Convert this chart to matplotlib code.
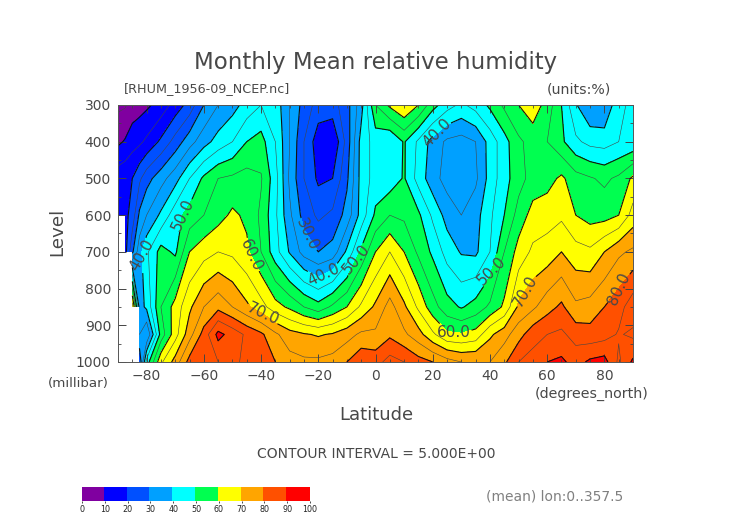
import numpy as np
import matplotlib
matplotlib.use("Agg")
import matplotlib.pyplot as plt
from matplotlib.colors import ListedColormap, BoundaryNorm

# latitude grid and pressure levels
lats = [-90, -87.5, -85, -82.5, -80, -75, -70, -65, -60, -55, -50, -45, -40, -35, -30, -25, -20, -15, -10,
        -5, 0, 5, 10, 15, 20, 25, 30, 35, 40, 45, 50, 55, 60, 65, 70, 75, 80, 85, 90]
levels_mb = [300, 400, 500, 600, 700, 850, 925, 1000]

# relative humidity (%), one list per pressure level
nan = np.nan
rh_300 = [4, 4.5, 7, 8, 9, 12, 17, 22, 30, 35, 38, 42, 45, 43, 35, 28, 23, 23, 28,
          38, 55, 61, 65, 60, 52, 47, 44, 47, 51, 56, 60, 63, 58, 50, 40.5, 35, 35, 44, 46]
rh_400 = [9, 10.5, 13, 14, 16, 21, 27, 33, 38, 42, 45, 50, 52, 45, 35, 25, 17, 15, 27,
          42, 47, 45, 50.5, 44, 38, 34, 33, 35, 42, 48, 54, 57, 55, 51, 46, 43.5, 43, 45, 46]
rh_500 = [18, 19, 20, 24, 28, 33, 38, 45, 51, 55, 56, 57, 55.5, 47, 34, 25, 19, 20, 29,
          42, 47, 47, 50.5, 43, 37, 33, 32, 34, 42, 48, 53, 57, 58, 61, 57, 55.5, 54, 56, 61]
rh_600 = [17, 18.5, 22, 31, 35, 41, 48, 52, 55, 58, 61, 59, 54, 46, 36, 28, 24, 26, 32,
          42, 51, 55, 54, 51, 44, 38, 35, 38, 44, 50, 57, 62, 63, 64, 60, 58, 58, 60, 67]
rh_700 = [nan, 18, 29, 38, 44, 52, 49, 60, 63, 65, 64, 61, 55, 47, 39.5, 33, 30, 32, 41,
          51, 60, 65, 60, 54, 49, 43, 39.5, 39, 45, 55, 62, 66, 67, 70, 67, 66, 70, 74, 76]
rh_850 = [nan, nan, 68, 38, 41, 55, 62, 69, 75, 78.5, 75, 71, 67, 62, 59, 55, 52, 56, 60,
          66, 71, 77, 71, 64, 57, 52, 49.5, 52, 56, 61, 71, 74, 78, 81, 76, 77, 80, 83, 88]
rh_925 = [nan, nan, nan, 35, 30, 52, 63, 73, 82, 91.5, 88, 84, 81, 76, 72, 70.5, 69.5, 70.5, 73,
          76, 76, 79, 76, 72, 66, 61, 60.5, 62, 69, 73, 78, 83, 85, 86, 83, 82, 83, 85.5, 84]
rh_1000 = [nan, nan, nan, 25, 47, 64, 72, 82, 84, 85, 86, 84, 84, 80, 77, 76, 76, 77, 80,
           84, 83, 87, 85, 82, 80, 77, 75, 75, 75, 79, 85, 87, 90, 91, 88, 91, 92, 84, 91]

fill_levels = np.arange(0, 101, 10)
major_lines = np.arange(10, 100, 10)
minor_lines = np.arange(5, 100, 10)
fill_colors = ["#8000a0", "#0000ff", "#0050ff", "#00a0ff", "#00ffff",
               "#00ff50", "#ffff00", "#ffa500", "#ff5000", "#ff0000"]

# where the contour labels sit: (lat, level) and how they are turned
label_spots = [(-81, 709), (-67, 600), (-45, 715), (-39, 864), (-24, 654), (-18, 762), (-8.6, 714),
               (28, 888), (21, 374), (40, 750), (51, 799), (85, 799)]
label_angles = [60, 65, -65, -25, -65, 25, 50, 0, 45, 45, 60, 65]

TXT = "#484848"
W, H = 752, 532

rh = np.array([rh_300, rh_400, rh_500, rh_600, rh_700, rh_850, rh_925, rh_1000])

fig = plt.figure(figsize=(W / 100, H / 100), dpi=100)
ax = fig.add_axes([118 / W, 1 - 362 / H, 515 / W, 257 / H])

cmap = ListedColormap(fill_colors)
norm = BoundaryNorm(fill_levels, cmap.N)
cf = ax.contourf(lats, levels_mb, rh, levels=fill_levels, cmap=cmap, norm=norm, corner_mask=False)
ax.contour(lats, levels_mb, rh, levels=minor_lines, colors="#444444", linewidths=0.4, corner_mask=False)
cs = ax.contour(lats, levels_mb, rh, levels=major_lines, colors="#111111", linewidths=0.8, corner_mask=False)
texts = ax.clabel(cs, fmt="%.1f", fontsize=11, colors=TXT, manual=label_spots, inline=True, inline_spacing=1)
for t, a in zip(texts, label_angles):
    t.set_rotation(a)

ax.set_xlim(-90, 90)
ax.set_ylim(1000, 300)
ax.set_xticks(np.arange(-80, 81, 20))
ax.set_xticks(np.arange(-90, 91, 5), minor=True)
ax.set_yticks(np.arange(300, 1001, 100))
ax.set_yticks(np.arange(300, 1001, 50), minor=True)
ax.tick_params(which="major", direction="in", length=5.5, width=0.7, top=True, right=True,
               labelsize=10, labelcolor=TXT, color="#444444")
ax.tick_params(which="minor", direction="in", length=2.5, width=0.6, top=True, right=True, color="#444444")
ax.tick_params(axis="x", which="major", pad=5)
ax.tick_params(axis="y", which="major", pad=5)
ax.set_xticklabels(["\u221280", "\u221260", "\u221240", "\u221220", "0", "20", "40", "60", "80"])
for s in ax.spines.values():
    s.set_linewidth(0.7)
    s.set_color("#555555")


def label(x, y, s, **kw):
    # x, y in picture pixels
    kw.setdefault("color", TXT)
    kw.setdefault("va", "center")
    fig.text(x / W, 1 - y / H, s, **kw)


label(376, 62, "Monthly Mean relative humidity", fontsize=16.5, ha="center")
label(124, 89, "[RHUM_1956-09_NCEP.nc]", fontsize=9.2, ha="left")
label(547, 89, "(units:%)", fontsize=10.2, ha="left")
label(57, 232, "Level", fontsize=13.2, ha="center", rotation=90)
label(48, 384, "(millibar)", fontsize=9.6, ha="left")
label(376, 415, "Latitude", fontsize=13, ha="center")
label(535, 394, "(degrees_north)", fontsize=10.3, ha="left")
label(376, 454, "CONTOUR INTERVAL = 5.000E+00", fontsize=10, ha="center")
label(486, 496, "(mean) lon:0..357.5", fontsize=10, ha="left", color="#808080")

cax = fig.add_axes([82 / W, 1 - 501 / H, 228 / W, 14 / H])
cb = fig.colorbar(cf, cax=cax, orientation="horizontal", ticks=fill_levels)
cb.ax.tick_params(labelsize=5.8, length=1.5, width=0.5, pad=1.5, labelcolor="#222222")
cb.outline.set_visible(False)
cb.solids.set_edgecolor("face")

fig.savefig("out.png", dpi=100)
